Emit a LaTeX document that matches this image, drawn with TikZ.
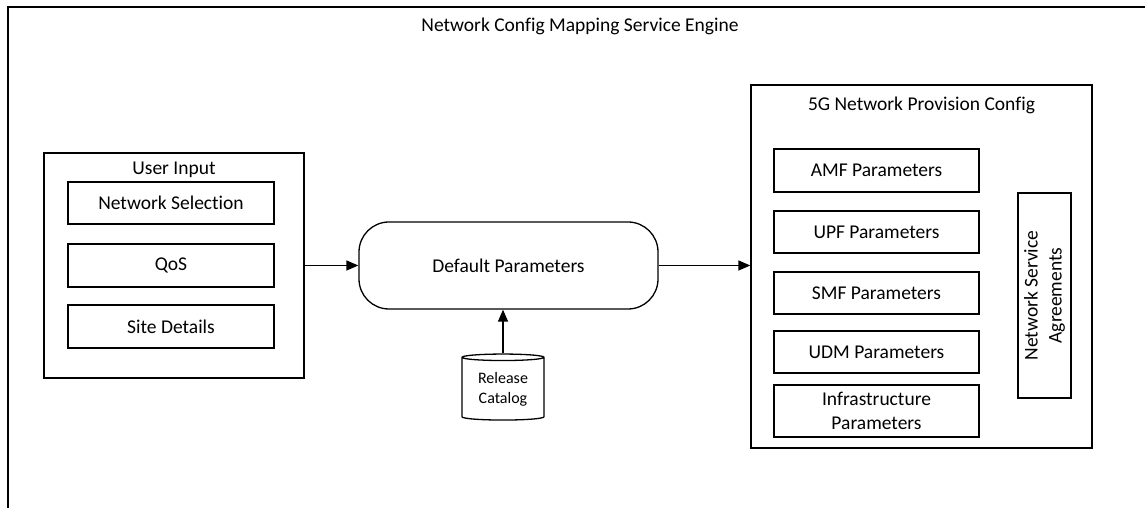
\documentclass[tikz,border=0pt]{standalone}
\usepackage{fontspec}
\setmainfont{Carlito}[Ligatures=NoCommon]
\usetikzlibrary{arrows.meta,shapes.geometric}

\begin{document}
\begin{tikzpicture}[x=1pt,y=1pt,
  every node/.style={font=\fontsize{19.5}{24}\selectfont},
  box/.style={draw=black,line width=1.3pt,minimum height=42pt,inner sep=0pt,align=center},
  frame/.style={draw=black,line width=1.3pt,inner sep=0pt},
  flow/.style={line width=1.3pt,-{Triangle[length=12pt,width=10pt]}}]
\useasboundingbox (0,0) rectangle (1145,508);
\clip (0,0) rectangle (1145,508);
% outer engine frame, runs off the page at right and bottom:
\path[draw=black,line width=1.8pt] (8,-20) rectangle (1160,501);
\node (engtitle) at (580,482) {Network Config Mapping Service Engine};
% user input group:
\node[frame,minimum width=260pt,minimum height=225pt] (userin) at (174,242.5) {};
\node (usertitle) at (174,338) {User Input};
\node[box,minimum width=206pt] (netsel) at (171,305) {Network Selection};
\node[box,minimum width=206pt,minimum height=43pt] (qos) at (171,242.5) {QoS};
\node[box,minimum width=206pt,minimum height=43pt] (site) at (171,181.5) {Site Details};
% mapping step and catalog:
\node[draw=black,line width=1.3pt,rounded corners=30pt,minimum width=299pt,minimum height=87pt] (defpar) at (508.5,242.5) {Default Parameters};
\node[draw=black,line width=1.3pt,cylinder,shape border rotate=90,aspect=0.13,
  minimum width=82pt,minimum height=66pt,inner sep=0pt,align=center,
  font=\fontsize{16}{20}\selectfont] (catalog) at (503,119) {Release\\Catalog};
% provision config group:
\node[frame,minimum width=341pt,minimum height=363pt] (provcfg) at (921.5,241.5) {};
\node (provtitle) at (921.5,403) {5G Network Provision Config};
\node[box,minimum width=205pt,minimum height=43pt] (amf) at (876.5,337.5) {AMF Parameters};
\node[box,minimum width=205pt] (upf) at (876.5,276) {UPF Parameters};
\node[box,minimum width=205pt] (smf) at (876.5,215) {SMF Parameters};
\node[box,minimum width=205pt] (udm) at (876.5,156) {UDM Parameters};
\node[box,minimum width=205pt,minimum height=52pt] (infra) at (876.5,97) {Infrastructure\\Parameters};
\node[box,minimum width=53pt,minimum height=205pt] (nsa) at (1044.5,212.5) {};
\node[rotate=90,align=center] (nsatext) at (nsa.center) {Network Service\\Agreements};
% connectors:
\draw[flow] (userin.east) -- (defpar.west);
\draw[flow] (defpar.east) -- (defpar.east -| provcfg.west);
\draw[flow] (catalog.north) -- (catalog.north |- defpar.south);
\end{tikzpicture}
\end{document}
